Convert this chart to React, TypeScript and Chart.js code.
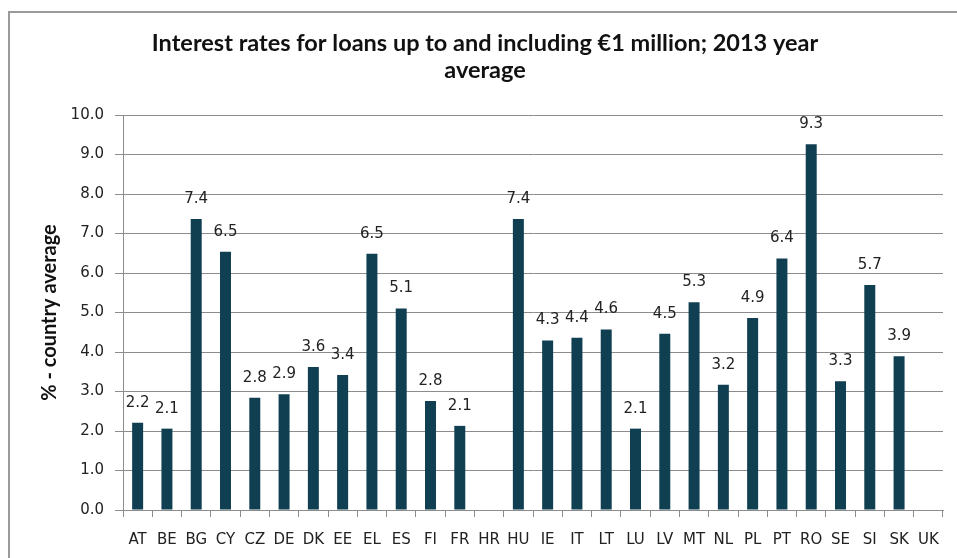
import React, { useEffect, useRef } from "react";
import { Chart, registerables } from "chart.js";

Chart.register(...registerables);

const countries = ["AT","BE","BG","CY","CZ","DE","DK","EE","EL","ES","FI","FR","HR","HU","IE","IT","LT","LU","LV","MT","NL","PL","PT","RO","SE","SI","SK","UK"];
const rates: (number | null)[] = [2.21,2.06,7.37,6.54,2.84,2.93,3.62,3.42,6.49,5.10,2.76,2.13,null,7.37,4.29,4.36,4.57,2.06,4.46,5.26,3.17,4.86,6.37,9.26,3.26,5.70,3.89,null];
const titleLines = ["Interest rates for loans up to and including €1 million; 2013 year", "average"];
const yTitle = "% - country average";

const dataLabels = {
  id: "dataLabels",
  afterDatasetsDraw(chart: any) {
    const ctx = chart.ctx;
    const meta = chart.getDatasetMeta(0);
    ctx.save();
    ctx.font = "15px 'DejaVu Sans'";
    ctx.fillStyle = "#222";
    ctx.textAlign = "center";
    ctx.textBaseline = "middle";
    meta.data.forEach((el: any, i: number) => {
      const v = rates[i];
      if (v == null) return;
      ctx.fillText(v.toFixed(1), el.x, el.y - 20);
    });
    ctx.restore();
  },
};

export default function App() {
  const ref = useRef<HTMLCanvasElement>(null);
  useEffect(() => {
    const chart = new Chart(ref.current!, {
      type: "bar",
      data: {
        labels: countries,
        datasets: [{ data: rates as any, backgroundColor: "#0f3f51", categoryPercentage: 1, barPercentage: 0.375 }],
      },
      options: {
        responsive: false,
        animation: false,
        layout: { padding: { left: 27, right: 14, top: 20, bottom: 0 } },
        plugins: {
          legend: { display: false },
          tooltip: { enabled: false },
          title: {
            display: true,
            text: titleLines,
            color: "#111",
            font: { family: "Lato", size: 23.5, weight: "bold", lineHeight: 1.15 },
            padding: { top: 10, bottom: 31 },
          },
        },
        scales: {
          x: {
            afterFit(s: any) { s.height = 48; },
            grid: { offset: true, drawOnChartArea: false, drawTicks: true, tickLength: 7, color: "#8c8c8c" },
            border: { color: "#8c8c8c", width: 1 },
            ticks: { color: "#222", font: { family: "DejaVu Sans", size: 15 }, padding: 14, autoSkip: false, maxRotation: 0 },
          },
          y: {
            min: 0,
            max: 10,
            afterFit(s: any) { s.width = 96; },
            grid: { color: "#8c8c8c", tickLength: 8 },
            border: { color: "#8c8c8c", width: 1 },
            ticks: { stepSize: 1, color: "#222", font: { family: "DejaVu Sans", size: 15 }, padding: 11, callback: (v: any) => Number(v).toFixed(1) },
            title: { display: true, text: yTitle, color: "#111", font: { family: "Lato", size: 20, weight: "bold" }, padding: { top: 11 } },
          },
        },
      },
      plugins: [dataLabels],
    });
    return () => chart.destroy();
  }, []);
  return (
    <div style={{ position: "fixed", left: 0, top: 0, width: 957, height: 558, background: "#fff", overflow: "hidden" }}>
      <canvas ref={ref} width={957} height={558} style={{ position: "absolute", left: 0, top: 0 }} />
      <div style={{ position: "absolute", left: 8, top: 11, width: 1000, height: 600, borderLeft: "2px solid #9a9a9a", borderTop: "2px solid #9a9a9a", pointerEvents: "none" }} />
    </div>
  );
}
